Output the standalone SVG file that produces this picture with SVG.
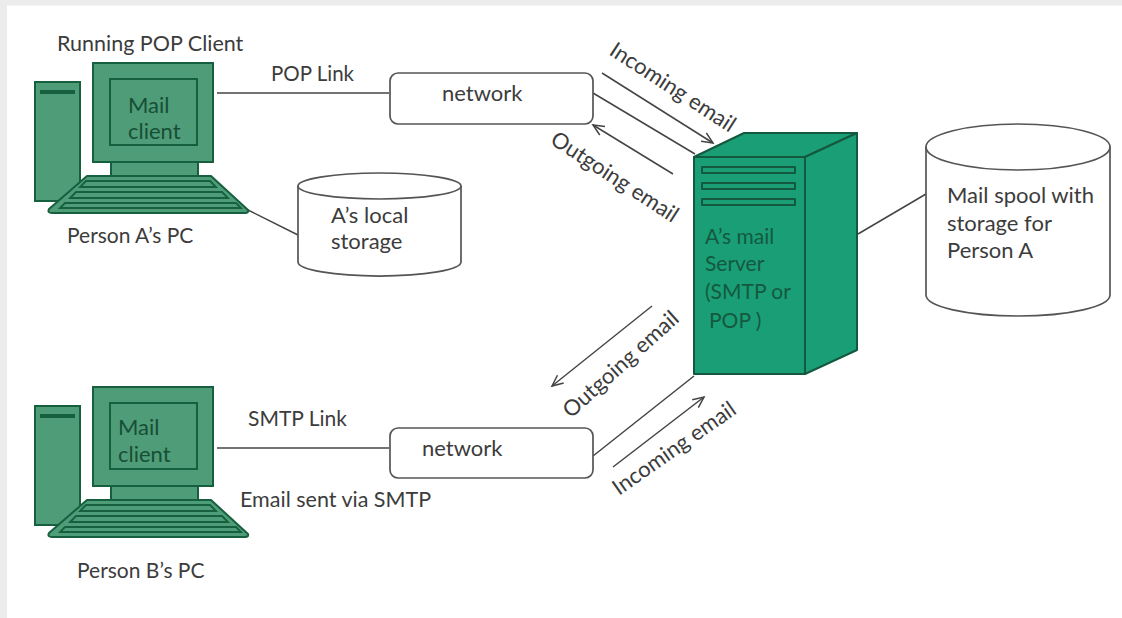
<svg xmlns="http://www.w3.org/2000/svg" width="1122" height="618" viewBox="0 0 1122 618">
<defs>
<style>
text{font-family:Lato,"Open Sans","Liberation Sans",sans-serif;font-size:21px;fill:#3c3c3c}
.g{fill:#4f9c78;stroke:#17603f;stroke-width:2}
.d{fill:#17603f;stroke:none}
.k{fill:#4f9c78;stroke:#17603f;stroke-width:2;stroke-linejoin:round}
.r{fill:none;stroke:#17603f;stroke-width:1.800}
.t{fill:#174f36;font-size:22px}
.s{fill:#1a9e76;stroke:#14593f;stroke-width:2;stroke-linejoin:round}
.st{fill:#14593f;font-size:21px}
.c{fill:none;stroke:#444;stroke-width:1.5}
.n{fill:#fff;stroke:#555;stroke-width:1.7}
.b{font-size:22px}
</style>
<marker id="ah" markerWidth="14" markerHeight="12" refX="12" refY="6" orient="auto" markerUnits="userSpaceOnUse"><path d="M1 1L12 6L1 11" fill="none" stroke="#444" stroke-width="1.5"/></marker>
<g id="pc">
<rect class="g" x="35" y="82" width="45" height="119"/>
<rect class="d" x="40" y="90" width="35" height="4"/>
<rect class="g" x="93" y="63" width="120" height="99"/>
<rect class="g" x="110" y="79" width="87" height="66"/>
<rect class="g" x="111" y="162" width="87" height="14"/>
<path class="k" d="M87 176H211L248 210Q249 213 245 213H52Q47 213 49 209Z"/>
<path class="r" d="M86 181H210L216 187H80ZM76 192H222L228 198H70ZM65 203H236L241 208H60Z"/>
</g>
</defs>
<rect width="1122" height="618" fill="#fff"/>
<path d="M0 0H1122V5.500H7V618H0Z" fill="#ececec"/>
<g id="connectors">
<path class="c" d="M217 93H389"/>
<path class="c" d="M217 448H389"/>
<path class="c" d="M248 210L298 235"/>
<path class="c" d="M593 93L695 154"/>
<path class="c" d="M593 456L694 376"/>
<path class="c" d="M858 234L926 194"/>
<path class="c" marker-end="url(#ah)" d="M602 73L713 143"/>
<path class="c" marker-end="url(#ah)" d="M673 174L593 125"/>
<path class="c" marker-end="url(#ah)" d="M652 306L552 386"/>
<path class="c" marker-end="url(#ah)" d="M613 467L704 397"/>
</g>
<g id="pc-a"><use href="#pc"/>
<text class="t" x="128" y="113">Mail</text><text class="t" x="128" y="139">client</text></g>
<g id="pc-b"><use href="#pc" y="324"/>
<text class="t" x="118" y="435">Mail</text><text class="t" x="118" y="462">client</text></g>
<g id="network-a"><rect class="n" x="390" y="73" width="203" height="51" rx="8"/><text class="b" x="442" y="101">network</text></g>
<g id="network-b"><rect class="n" x="390" y="428" width="203" height="50" rx="8"/><text class="b" x="422" y="456">network</text></g>
<g id="local-storage"><path class="n" d="M298 186V262A81 14 0 0 0 461 262V186"/><ellipse class="n" cx="379.500" cy="186" rx="81.500" ry="13"/><text class="b" x="331" y="223">A’s local</text><text class="b" x="331" y="249">storage</text></g>
<g id="mail-spool"><path class="n" d="M926 147V295A92 21 0 0 0 1110 295V147"/><ellipse class="n" cx="1018" cy="147" rx="92" ry="23"/><text class="b" x="947" y="203">Mail spool with</text><text class="b" x="947" y="231">storage for</text><text class="b" x="947" y="258">Person A</text></g>
<g id="server">
<path class="s" d="M694 157L744 133H857L805 157Z"/>
<path class="s" d="M805 157L857 133V350L805 374Z"/>
<rect class="s" x="694" y="157" width="111" height="217"/>
<path class="s" d="M702 167H795V173H702ZM702 183H795V189H702ZM702 199H795V205H702Z"/>
<text class="st" x="705" y="244">A’s mail</text><text class="st" x="705" y="271">Server</text><text class="st" x="705" y="299">(SMTP or</text><text class="st" x="709" y="328">POP  )</text>
</g>
<text x="57" y="51" style="font-size:21.500px">Running POP Client</text>
<text x="271" y="81" style="font-size:20.500px">POP Link</text>
<text x="67" y="243">Person A’s PC</text>
<text x="248" y="426">SMTP Link</text>
<text x="240" y="507" style="font-size:21.500px">Email sent via SMTP</text>
<text x="77" y="578">Person B’s PC</text>
<text class="b" transform="translate(608 54) rotate(33)">Incoming email</text>
<text class="b" transform="translate(549 143) rotate(33)">Outgoing email</text>
<text class="b" transform="translate(571 419) rotate(-42)">Outgoing email</text>
<text class="b" transform="translate(619 496) rotate(-35)">Incoming email</text>
</svg>
